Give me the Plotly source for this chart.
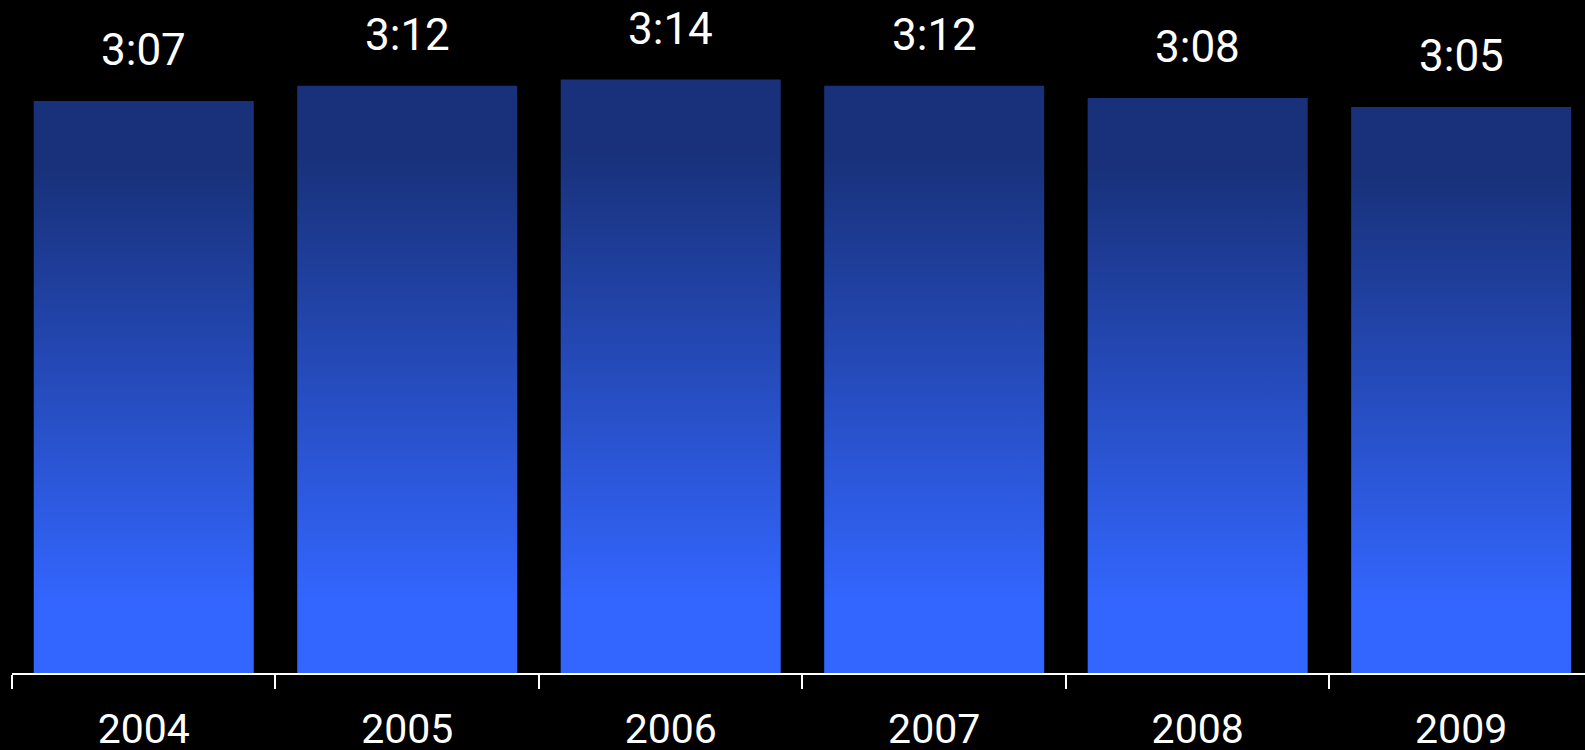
import plotly.graph_objects as go

# Average duration per year, in seconds (labelled as m:ss)
years = ["2004", "2005", "2006", "2007", "2008", "2009"]
seconds = [187, 192, 194, 192, 188, 185]

BAR_WIDTH = 0.835
TOP_COLOR = "#18317a"
BOTTOM_COLOR = "#3366ff"
gradient = [[0.0, BOTTOM_COLOR], [0.12, BOTTOM_COLOR], [0.88, TOP_COLOR], [1.0, TOP_COLOR]]

fig = go.Figure()

for i, v in enumerate(seconds):
    left, right = i - BAR_WIDTH / 2, i + BAR_WIDTH / 2
    fig.add_trace(go.Scatter(
        x=[left, right, right, left, left],
        y=[0, 0, v, v, 0],
        mode="lines",
        line=dict(width=0),
        fill="toself",
        fillgradient=dict(type="vertical", colorscale=gradient),
        hoverinfo="skip",
        showlegend=False,
    ))
    fig.add_annotation(
        x=i, y=v, xref="x", yref="y",
        text=f"{v // 60}:{v % 60:02d}",
        showarrow=False, yanchor="middle", yshift=51,
        font=dict(family="Roboto", size=44, color="white"),
    )

fig.update_layout(
    width=1585, height=750,
    paper_bgcolor="black", plot_bgcolor="black",
    margin=dict(l=12, r=0, t=0, b=77),
    showlegend=False,
    xaxis=dict(
        range=[-0.5, 5.47],
        automargin=False,
        tickmode="array",
        tickvals=list(range(len(years))),
        ticktext=years,
        ticks="",
        ticklabelstandoff=19,
        tickfont=dict(family="Roboto", size=41, color="white"),
        showgrid=False, zeroline=False,
        showline=True, linecolor="white", linewidth=2,
        minor=dict(
            tickmode="array",
            tickvals=[i - 0.5 for i in range(len(years))],
            ticks="outside", ticklen=14, tickwidth=2, tickcolor="white",
            showgrid=False,
        ),
    ),
    yaxis=dict(range=[0, 220], visible=False, showgrid=False, zeroline=False,
               automargin=False),
)

fig.write_html("out.html")
